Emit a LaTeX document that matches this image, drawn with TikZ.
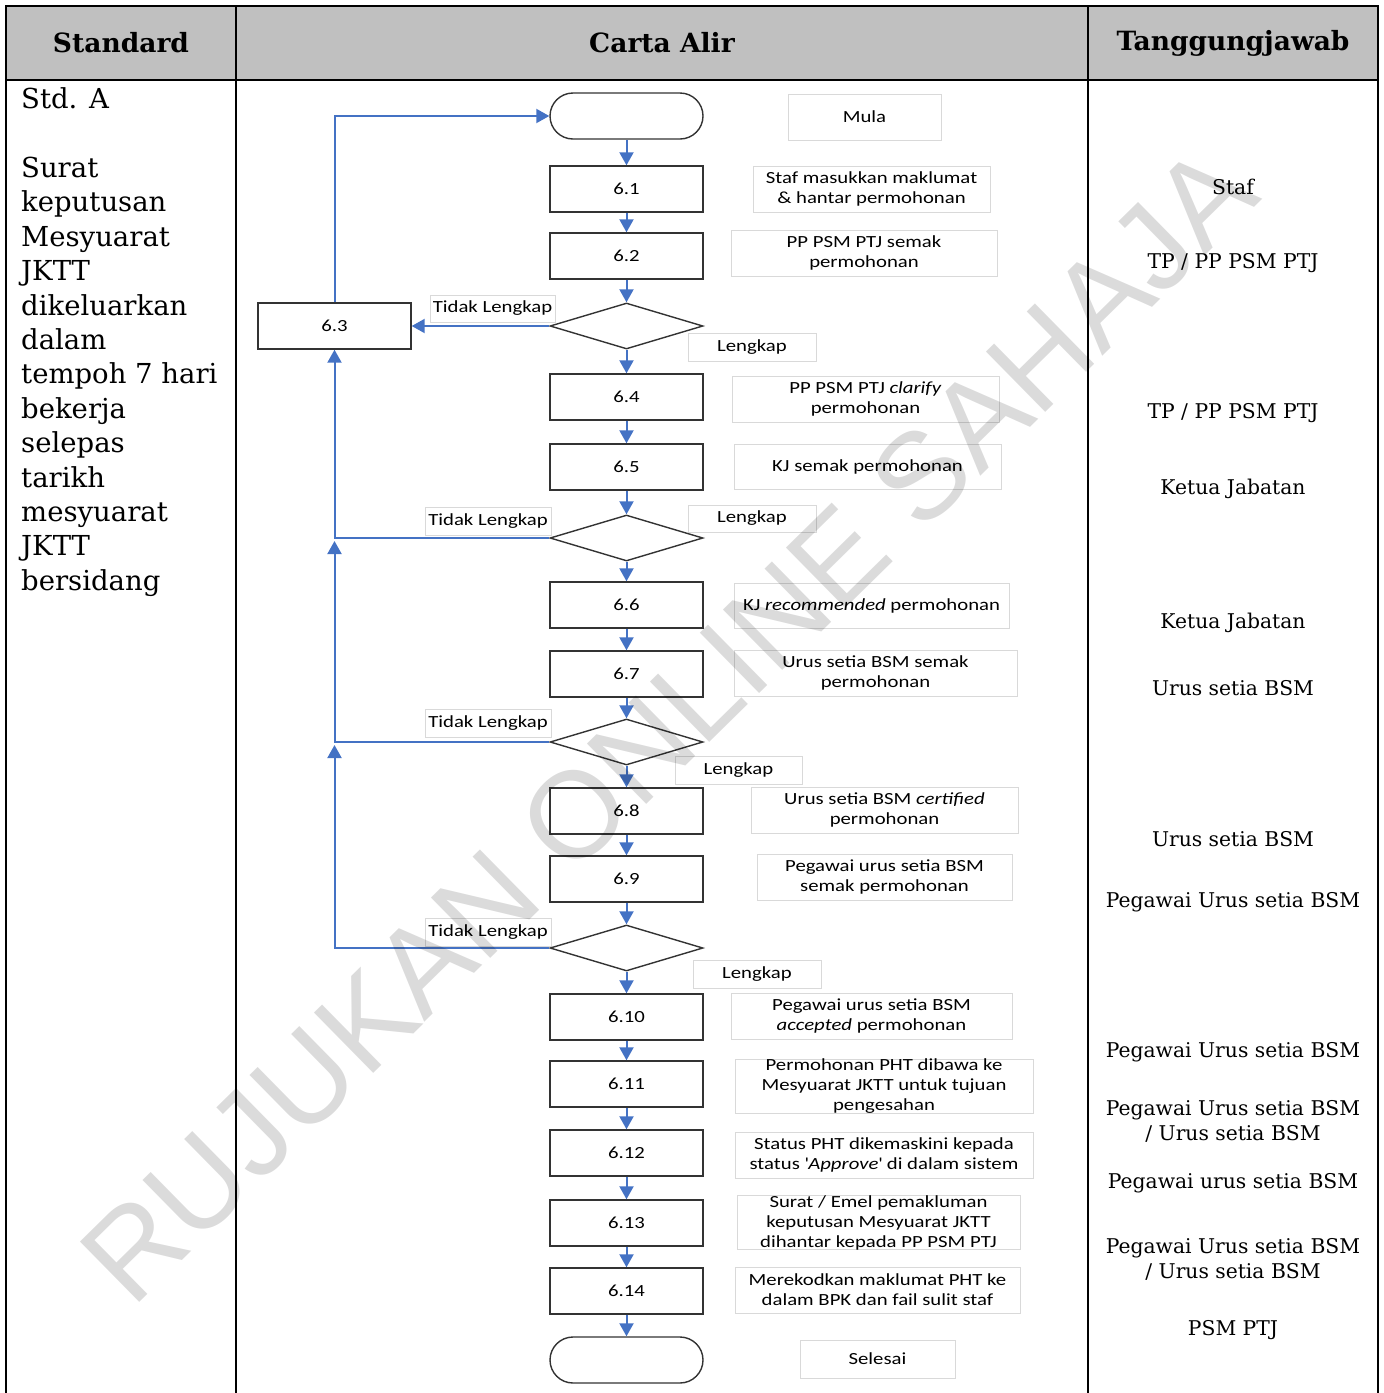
\documentclass[tikz,border=0pt]{standalone}
\usepackage{fontspec}
\setmainfont{DejaVu Serif}
\newfontfamily\flowfont[FakeStretch=1.22]{Carlito}
\newfontfamily\wmfont{Liberation Sans}
\usetikzlibrary{shapes.geometric,shapes.misc,arrows.meta}
\definecolor{flowblue}{HTML}{4472C4}
\definecolor{hdrgray}{HTML}{C0C0C0}
\begin{document}
\begin{tikzpicture}[x=1pt,y=-1pt,
  stepbox/.style={draw=black!80,line width=1.4pt,fill=white,minimum width=153pt,minimum height=46pt,inner sep=0pt,font=\flowfont\fontsize{17}{20}\selectfont},
  termbox/.style={rounded rectangle,draw=black!80,line width=1.4pt,fill=white,minimum width=153pt,minimum height=46pt,inner sep=0pt},
  decbox/.style={diamond,draw=black!80,line width=1.4pt,fill=white,minimum width=153pt,minimum height=46pt,inner sep=0pt},
  lbl/.style={draw=black!15,line width=0.8pt,fill=white,inner sep=0pt,align=center,font=\flowfont\fontsize{17}{20}\selectfont},
  flow/.style={draw=flowblue,line width=2pt,-{Triangle[length=13pt,width=14pt]}},
  hdr/.style={font=\bfseries\fontsize{26.5}{30}\selectfont},
  resp/.style={align=center,font=\fontsize{20.3}{25}\selectfont}]
\useasboundingbox (0,0) rectangle (1384,1393);
% table
\fill[hdrgray] (6,6) rectangle (1378,80);
\draw[line width=2pt] (6,1393) -- (6,6) -- (1378,6) -- (1378,1393);
\draw[line width=2pt] (6,80) -- (1378,80);
\draw[line width=2pt] (236,6) -- (236,1393);
\draw[line width=2pt] (1088,6) -- (1088,1393);
\node[hdr] (h1) at (121,43) {Standard};
\node[hdr] (h2) at (662,43) {Carta Alir};
\node[hdr] (h3) at (1233,43) {Tanggungjawab};
% left column
\node[anchor=north west,align=left,inner sep=0pt,font=\fontsize{27.5}{34.4}\selectfont] (std) at (21,87.5)
 {Std. A\\[34.4pt]Surat\\keputusan\\Mesyuarat\\JKTT\\dikeluarkan\\dalam\\tempoh 7 hari\\bekerja\\selepas\\tarikh\\mesyuarat\\JKTT\\bersidang};
% right column
\node[resp] (r1) at (1233,187) {Staf};
\node[resp] (r2) at (1233,263) {TP / PP PSM PTJ};
\node[resp] (r3) at (1233,413) {TP / PP PSM PTJ};
\node[resp] (r4) at (1233,489) {Ketua Jabatan};
\node[resp] (r5) at (1233,623) {Ketua Jabatan};
\node[resp] (r6) at (1233,688) {Urus setia BSM};
\node[resp] (r7) at (1233,839) {Urus setia BSM};
\node[resp] (r8) at (1233,902) {Pegawai Urus setia BSM};
\node[resp] (r9) at (1233,1052) {Pegawai Urus setia BSM};
\node[resp] (r10) at (1233,1121) {Pegawai Urus setia BSM\\/ Urus setia BSM};
\node[resp] (r11) at (1233,1183) {Pegawai urus setia BSM};
\node[resp] (r12) at (1233,1259) {Pegawai Urus setia BSM\\/ Urus setia BSM};
\node[resp] (r13) at (1233,1330) {PSM PTJ};
% labels
\node[lbl,minimum width=153pt,minimum height=46pt] (lmula) at (864.5,117) {Mula};
\node[lbl,minimum width=237pt,minimum height=46pt] (l1) at (871.5,189) {Staf masukkan maklumat\\\& hantar permohonan};
\node[lbl,minimum width=266pt,minimum height=46pt] (l2) at (864,253) {PP PSM PTJ semak\\permohonan};
\node[lbl,minimum width=125pt,minimum height=27pt] (tl1) at (492.5,308.5) {Tidak Lengkap};
\node[lbl,minimum width=128pt,minimum height=28pt] (lk1) at (752,347) {Lengkap};
\node[lbl,minimum width=267pt,minimum height=46pt] (l4) at (865.5,399) {PP PSM PTJ \textit{clarify}\\permohonan};
\node[lbl,minimum width=267pt,minimum height=45pt] (l5) at (867.5,466.5) {KJ semak permohonan};
\node[lbl,minimum width=126pt,minimum height=28pt] (tl2) at (488,521) {Tidak Lengkap};
\node[lbl,minimum width=128pt,minimum height=27pt] (lk2) at (752,518.5) {Lengkap};
\node[lbl,minimum width=275pt,minimum height=45pt] (l6) at (871.5,605.5) {KJ \textit{recommended} permohonan};
\node[lbl,minimum width=283pt,minimum height=46pt] (l7) at (875.5,673) {Urus setia BSM semak\\permohonan};
\node[lbl,minimum width=126pt,minimum height=28pt] (tl3) at (488,723) {Tidak Lengkap};
\node[lbl,minimum width=127pt,minimum height=28pt] (lk3) at (738.5,770) {Lengkap};
\node[lbl,minimum width=267pt,minimum height=46pt] (l8) at (884.5,810) {Urus setia BSM \textit{certified}\\permohonan};
\node[lbl,minimum width=255pt,minimum height=46pt] (l9) at (884.5,877) {Pegawai urus setia BSM\\semak permohonan};
\node[lbl,minimum width=126pt,minimum height=28pt] (tl4) at (488,932) {Tidak Lengkap};
\node[lbl,minimum width=128pt,minimum height=28pt] (lk4) at (757,974) {Lengkap};
\node[lbl,minimum width=281pt,minimum height=46pt] (l10) at (871.5,1016) {Pegawai urus setia BSM\\\textit{accepted} permohonan};
\node[lbl,minimum width=298pt,minimum height=47pt] (l11) at (884,1086.5) {Permohonan PHT dibawa ke\\Mesyuarat JKTT untuk tujuan\\pengesahan};
\node[lbl,minimum width=298pt,minimum height=46pt] (l12) at (884,1155) {Status PHT dikemaskini kepada\\status \textquotesingle\textit{Approve}\textquotesingle{} di dalam sistem};
\node[lbl,minimum width=283pt,minimum height=47pt] (l13) at (878.5,1222.5) {Surat / Emel pemakluman\\keputusan Mesyuarat JKTT\\dihantar kepada PP PSM PTJ};
\node[lbl,minimum width=285pt,minimum height=46pt] (l14) at (877.5,1290) {Merekodkan maklumat PHT ke\\dalam BPK dan fail sulit staf};
\node[lbl,minimum width=155pt,minimum height=38pt] (lsel) at (877.5,1359) {Selesai};
% flow nodes
\node[termbox] (start) at (626.5,116) {};
\node[stepbox] (n1) at (626.5,189) {6.1};
\node[stepbox] (n2) at (626.5,256) {6.2};
\node[decbox] (d1) at (626.5,326) {};
\node[stepbox] (n3) at (334.5,326) {6.3};
\node[stepbox] (n4) at (626.5,397) {6.4};
\node[stepbox] (n5) at (626.5,467) {6.5};
\node[decbox] (d2) at (626.5,538) {};
\node[stepbox] (n6) at (626.5,605) {6.6};
\node[stepbox] (n7) at (626.5,674) {6.7};
\node[decbox] (d3) at (626.5,742) {};
\node[stepbox] (n8) at (626.5,811) {6.8};
\node[stepbox] (n9) at (626.5,879) {6.9};
\node[decbox] (d4) at (626.5,948) {};
\node[stepbox] (n10) at (626.5,1017) {6.10};
\node[stepbox] (n11) at (626.5,1084) {6.11};
\node[stepbox] (n12) at (626.5,1153) {6.12};
\node[stepbox] (n13) at (626.5,1223) {6.13};
\node[stepbox] (n14) at (626.5,1291) {6.14};
\node[termbox] (end) at (626.5,1360) {};
\coordinate (tipA) at (334.5,541);
\coordinate (tipB) at (334.5,745);
% connectors
\draw[flow] (start) -- (n1);
\draw[flow] (n1) -- (n2);
\draw[flow] (n2) -- (d1.north);
\draw[flow] (d1.south) -- (n4);
\draw[flow] (n4) -- (n5);
\draw[flow] (n5) -- (d2.north);
\draw[flow] (d2.south) -- (n6);
\draw[flow] (n6) -- (n7);
\draw[flow] (n7) -- (d3.north);
\draw[flow] (d3.south) -- (n8);
\draw[flow] (n8) -- (n9);
\draw[flow] (n9) -- (d4.north);
\draw[flow] (d4.south) -- (n10);
\draw[flow] (n10) -- (n11);
\draw[flow] (n11) -- (n12);
\draw[flow] (n12) -- (n13);
\draw[flow] (n13) -- (n14);
\draw[flow] (n14) -- (end);
\draw[flow] (d1.west) -- (n3.east);
\draw[flow] (n3.north) |- (start.west);
\draw[flow] (d2.west) -| (n3.south);
\draw[flow] (d3.west) -| (tipA);
\draw[flow] (d4.west) -| (tipB);
% watermark
\node[rotate=44.5,text=black,text opacity=0.14,font=\wmfont\fontsize{123}{123}\selectfont] (wm) at (668,724) {RUJUKAN ONLINE SAHAJA};
\end{tikzpicture}
\end{document}
